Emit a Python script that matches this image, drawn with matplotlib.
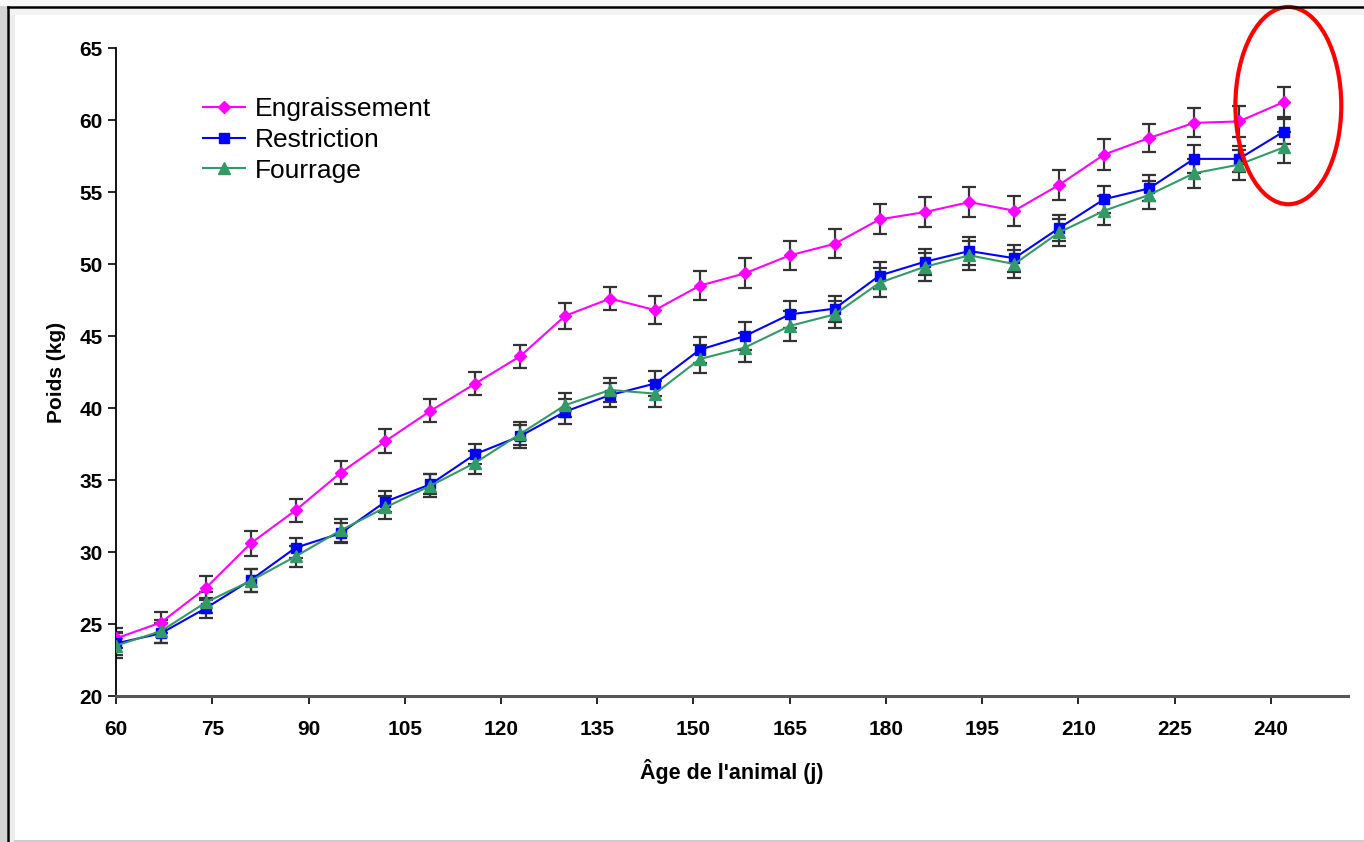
import matplotlib.pyplot as plt
from matplotlib.patches import Ellipse, Rectangle
from matplotlib.lines import Line2D
import numpy as np

plt.rcParams['font.family'] = ['Liberation Sans', 'DejaVu Sans']

age = [60, 67, 74, 81, 88, 95, 102, 109, 116, 123, 130, 137, 144, 151,
       158, 165, 172, 179, 186, 193, 200, 207, 214, 221, 228, 235, 242]

engraissement = [24.0, 25.1, 27.5, 30.6, 32.9, 35.5, 37.7, 39.8, 41.7, 43.6,
                 46.4, 47.6, 46.8, 48.5, 49.35, 50.6, 51.4, 53.1, 53.6, 54.3,
                 53.7, 55.5, 57.6, 58.75, 59.8, 59.9, 61.25]
engraissement_err = [0.7, 0.7, 0.8, 0.85, 0.8, 0.8, 0.85, 0.8, 0.8, 0.8,
                     0.9, 0.8, 1.0, 1.0, 1.05, 1.0, 1.0, 1.05, 1.05, 1.05,
                     1.05, 1.05, 1.05, 1.0, 1.0, 1.05, 1.05]

restriction = [23.65, 24.35, 26.1, 28.05, 30.3, 31.3, 33.5, 34.7, 36.8, 38.05,
               39.75, 40.9, 41.7, 44.05, 45.0, 46.5, 46.9, 49.2, 50.15, 50.9,
               50.4, 52.5, 54.5, 55.25, 57.3, 57.3, 59.2]
restriction_err = [0.8, 0.7, 0.7, 0.8, 0.7, 0.7, 0.75, 0.7, 0.7, 0.8,
                   0.85, 0.85, 0.9, 0.9, 0.95, 0.95, 0.9, 0.95, 0.9, 0.95,
                   0.95, 0.9, 0.95, 0.9, 0.95, 0.9, 0.9]

fourrage = [23.5, 24.5, 26.5, 28.0, 29.7, 31.5, 33.1, 34.6, 36.2, 38.2,
            40.2, 41.25, 41.0, 43.4, 44.2, 45.7, 46.5, 48.7, 49.8, 50.6,
            50.0, 52.2, 53.7, 54.8, 56.3, 56.9, 58.1]
fourrage_err = [0.85, 0.8, 0.75, 0.8, 0.75, 0.8, 0.8, 0.8, 0.8, 0.8,
                0.85, 0.85, 0.9, 0.95, 1.0, 1.05, 0.95, 1.0, 0.95, 1.0,
                0.95, 0.95, 1.0, 0.95, 1.0, 1.05, 1.1]

W, H = 1364, 842
fig = plt.figure(figsize=(W / 100, H / 100), dpi=100)
fig.patch.set_facecolor('white')

# slide-like frame: grey strip at left, black line top/left, light band inside
fig.patches.append(Rectangle((0, 0), 7 / W, 1, transform=fig.transFigure,
                             facecolor='#d4d4d4', edgecolor='none', zorder=-3))
fig.patches.append(Rectangle((8 / W, 0), 7 / W, 1 - 7 / H, transform=fig.transFigure,
                             facecolor='#ededed', edgecolor='none', zorder=-3))
fig.patches.append(Rectangle((8 / W, 1 - 15 / H), 1, 8 / H, transform=fig.transFigure,
                             facecolor='#f3f3f3', edgecolor='none', zorder=-3))
fig.patches.append(Rectangle((0, 1 - 6 / H), 1, 6 / H, transform=fig.transFigure,
                             facecolor='#f7f7f7', edgecolor='none', zorder=-3))
fig.lines.append(Line2D([7.5 / W, 7.5 / W], [0, 1 - 6.5 / H], transform=fig.transFigure,
                        color='black', linewidth=1.8))
fig.lines.append(Line2D([7.5 / W, 1], [1 - 6.5 / H, 1 - 6.5 / H], transform=fig.transFigure,
                        color='black', linewidth=1.8))
fig.lines.append(Line2D([15 / W, 1], [1 / H, 1 / H], transform=fig.transFigure,
                        color='#cccccc', linewidth=1.5))

ax = fig.add_axes([116 / W, 146 / H, (1348 - 116) / W, (696 - 48) / H])
ax.set_facecolor('none')

series = [
    (engraissement, engraissement_err, '#ff00ff', 'D', 6.5, 'Engraissement'),
    (restriction, restriction_err, '#0000ff', 's', 7, 'Restriction'),
    (fourrage, fourrage_err, '#339966', '^', 8, 'Fourrage'),
]
for vals, err, col, mk, ms, lab in series:
    ax.errorbar(age, vals, yerr=err, fmt='none', ecolor='#333333',
                elinewidth=1.6, capsize=5, capthick=1.6, zorder=2)
    ax.plot(age, vals, color=col, marker=mk, markersize=ms, linewidth=1.5,
            label=lab, zorder=3)

ax.set_xlim(60, 252)
ax.set_ylim(20, 65)
ax.set_xticks(np.arange(60, 241, 15))
ax.set_yticks(np.arange(20, 66, 5))
ax.tick_params(axis='both', labelsize=15, direction='out', length=6, width=1.2)
ax.tick_params(axis='x', pad=11)
for t in ax.get_xticklabels() + ax.get_yticklabels():
    t.set_fontweight('bold')

for s in ['top', 'right']:
    ax.spines[s].set_visible(False)
ax.spines['left'].set_linewidth(1.3)
ax.spines['bottom'].set_linewidth(2.2)
ax.spines['bottom'].set_color('#555555')

ax.set_xlabel("Âge de l'animal (j)", fontsize=15.5, fontweight='bold', labelpad=15)
ax.set_ylabel('Poids (kg)', fontsize=15, fontweight='bold', labelpad=10)

ax.legend(loc='upper left', bbox_to_anchor=(0.062, 0.94), frameon=False,
          fontsize=19, handlelength=1.6, handletextpad=0.35, labelspacing=0.25,
          borderaxespad=0)

ax.add_patch(Ellipse((242.7, 61.0), 16.5, 13.7, fill=False, edgecolor='red',
                     linewidth=3, clip_on=False, zorder=4))

fig.savefig('out.png', dpi=100)
